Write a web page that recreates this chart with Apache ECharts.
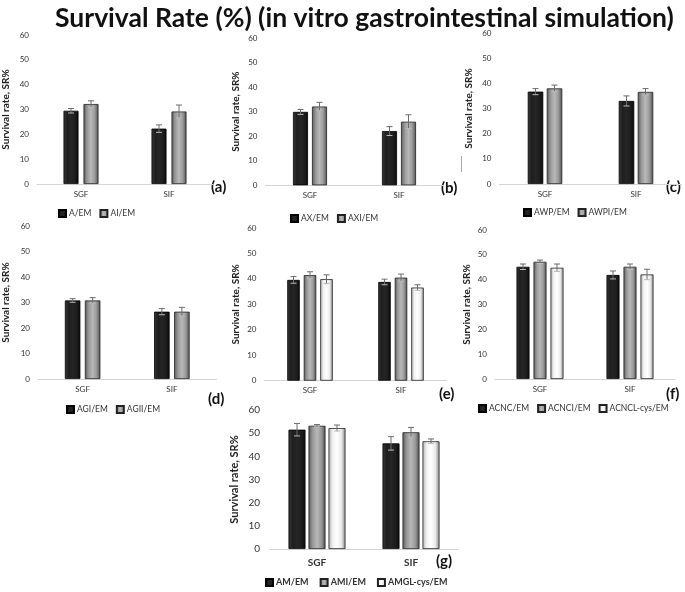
<!DOCTYPE html>
<html><head><meta charset="utf-8">
<script src="https://cdn.jsdelivr.net/npm/echarts@6/dist/echarts.min.js"></script>
<style>html,body{margin:0;padding:0;background:#fff}#c{width:685px;height:592px}</style>
</head><body><div id="c"></div>
<script>
// ---------- data ----------
const titleText = 'Survival Rate (%) (in vitro gastrointestinal simulation)';
const categories = ['SGF', 'SIF'];
const yTicks = [0, 10, 20, 30, 40, 50, 60];
const yName = 'Survival rate, SR%';

const aNames = ['A/EM', 'AI/EM'];
const aValues = [[29.5, 22.3], [32.2, 29.2]];
const aErrors = [[0.9, 1.5], [1.3, 2.6]];

const bNames = ['AX/EM', 'AXI/EM'];
const bValues = [[29.9, 22.1], [32.1, 25.9]];
const bErrors = [[1.0, 1.8], [1.7, 2.8]];

const cNames = ['AWP/EM', 'AWPI/EM'];
const cValues = [[36.7, 33.0], [38.0, 36.6]];
const cErrors = [[1.2, 2.0], [1.3, 1.3]];

const dNames = ['AGI/EM', 'AGII/EM'];
const dValues = [[30.8, 26.4], [30.8, 26.4]];
const dErrors = [[0.7, 1.2], [1.1, 1.7]];

const eNames = ['e1', 'e2', 'e3'];
const eValues = [[39.6, 38.8], [41.5, 40.5], [39.9, 36.6]];
const eErrors = [[1.3, 1.1], [1.3, 1.4], [1.7, 1.1]];

const fNames = ['ACNC/EM', 'ACNCI/EM', 'ACNCL-cys/EM'];
const fValues = [[45.2, 41.9], [47.2, 45.2], [44.8, 42.1]];
const fErrors = [[1.1, 1.6], [0.7, 1.1], [1.5, 2.1]];

const gNames = ['AM/EM', 'AMI/EM', 'AMGL-cys/EM'];
const gValues = [[51.5, 45.6], [53.2, 50.4], [52.2, 46.5]];
const gErrors = [[2.7, 2.9], [0.5, 2.1], [1.3, 1.0]];

const panelLetters = ['(a)', '(b)', '(c)', '(d)', '(e)', '(f)', '(g)'];

// ---------- layout / styles ----------
const panels = [
  {names: aNames, values: aValues, errors: aErrors, letter: panelLetters[0],
   L: {left: 37, top: 35, width: 176, height: 149, barW: 15, step: 20, nameGap: 26, nameSize: 10, labelSize: 8, bold: false,
       lx: 220, ly: 189, legend: {left: 58, top: 209}}},
  {names: bNames, values: bValues, errors: bErrors, letter: panelLetters[1],
   L: {left: 265.5, top: 38, width: 178, height: 147.3, barW: 15, step: 19, nameGap: 25, nameSize: 10, labelSize: 8, bold: false,
       lx: 450, ly: 190, legend: {left: 290, top: 214}}},
  {names: cNames, values: cValues, errors: cErrors, letter: panelLetters[2],
   L: {left: 499.5, top: 33, width: 182, height: 151, barW: 15.5, step: 19, nameGap: 26, nameSize: 10, labelSize: 8, bold: false,
       lx: 675, ly: 189, legend: {left: 523, top: 208}}},
  {names: dNames, values: dValues, errors: dErrors, letter: panelLetters[3],
   L: {left: 34.5, top: 226, width: 182, height: 153, barW: 15.5, step: 20, nameGap: 27, nameSize: 10, labelSize: 8, bold: false,
       lx: 217, ly: 401, legend: {left: 66, top: 405}}},
  {names: eNames, values: eValues, errors: eErrors, letter: panelLetters[4],
   L: {left: 264.5, top: 228, width: 182, height: 152.7, barW: 12.5, step: 16.5, nameGap: 24, nameSize: 10, labelSize: 8, bold: false,
       lx: 448, ly: 396, legend: null}},
  {names: fNames, values: fValues, errors: fErrors, letter: panelLetters[5],
   L: {left: 495, top: 230, width: 180, height: 149, barW: 13, step: 17, nameGap: 23, nameSize: 10, labelSize: 8, bold: false,
       lx: 675, ly: 396, legend: {left: 478, top: 404}}},
  {names: gNames, values: gValues, errors: gErrors, letter: panelLetters[6],
   L: {left: 270, top: 410, width: 188, height: 139, barW: 17, step: 20, nameGap: 30, nameSize: 11, labelSize: 10, bold: true,
       lx: 445, ly: 563, legend: {left: 265, top: 578}}}
];

function grad(stops) {
  return new echarts.graphic.LinearGradient(0, 0, 1, 0, stops.map((c, i) => ({offset: i / (stops.length - 1), color: c})));
}
const barStyles = [
  {color: grad(['#3a3a3a', '#1e1e1e', '#252525', '#1e1e1e', '#0a0a0a']), borderColor: '#000', borderWidth: 0.8},
  {color: grad(['#5a5a5a', '#9a9a9a', '#b8b8b8', '#9a9a9a', '#505050']), borderColor: '#222', borderWidth: 0.8},
  {color: grad(['#b0b0b0', '#f2f2f2', '#ffffff', '#ececec', '#8a8a8a']), borderColor: '#222', borderWidth: 0.8}
];
const fontFam = 'Lato, "Open Sans", sans-serif';

const grid = [], xAxis = [], yAxis = [], series = [], legend = [], graphic = [];
panels.forEach((p, pi) => {
  const L = p.L;
  grid.push({left: L.left, top: L.top, width: L.width, height: L.height, containLabel: false});
  xAxis.push({type: 'category', gridIndex: pi, data: categories,
    axisLine: {lineStyle: {color: '#d4d4d4', width: 1}}, axisTick: {show: false},
    axisLabel: {fontSize: L.labelSize, color: '#333', margin: L.bold ? 9 : 6, fontFamily: fontFam, fontWeight: L.bold ? 'bold' : 'normal'}});
  yAxis.push({type: 'value', gridIndex: pi, min: yTicks[0], max: yTicks[yTicks.length - 1], interval: yTicks[1] - yTicks[0],
    splitLine: {show: false}, axisLine: {show: false}, axisTick: {show: false},
    axisLabel: {fontSize: L.labelSize, color: '#333', margin: L.bold ? 10 : 8, fontFamily: fontFam},
    name: yName, nameLocation: 'middle', nameGap: L.nameGap,
    nameTextStyle: {fontSize: L.nameSize, fontWeight: 'bold', color: '#222', fontFamily: fontFam}});
  const n = p.names.length;
  const errData = [];
  p.names.forEach((nm, si) => {
    series.push({type: 'bar', name: nm, xAxisIndex: pi, yAxisIndex: pi, data: p.values[si],
      barWidth: L.barW, barGap: ((L.step - L.barW) / L.barW * 100) + '%',
      itemStyle: barStyles[si], emphasis: {disabled: true}, animation: false});
    p.values[si].forEach((v, ci) => errData.push([ci, v, p.errors[si][ci], si]));
  });
  series.push({type: 'custom', name: 'err' + pi, xAxisIndex: pi, yAxisIndex: pi, data: errData, z: 5, animation: false,
    renderItem: (params, api) => {
      const c = api.value(0), v = api.value(1), e = api.value(2), s = api.value(3);
      const tp = api.coord([c, v + e]);
      const bt = api.coord([c, v - e]);
      const x = tp[0] + (s - (n - 1) / 2) * L.step;
      const st = {stroke: '#6a6a6a', lineWidth: 1};
      return {type: 'group', children: [
        {type: 'line', shape: {x1: x, y1: tp[1], x2: x, y2: bt[1]}, style: st},
        {type: 'line', shape: {x1: x - 3, y1: tp[1], x2: x + 3, y2: tp[1]}, style: st},
        {type: 'line', shape: {x1: x - 3, y1: bt[1], x2: x + 3, y2: bt[1]}, style: {stroke: '#bbbbbb', lineWidth: 1}}
      ]};
    }});
  if (L.legend) {
    legend.push({data: p.names, left: L.legend.left, top: L.legend.top, itemWidth: 7, itemHeight: 7, itemGap: L.bold ? 11 : 8,
      icon: 'rect', selectedMode: false, padding: 0,
      textStyle: {fontSize: L.bold ? 9 : 8.5, color: '#333', fontFamily: fontFam, padding: [0, 0, 0, -2], fontWeight: L.bold ? 'bold' : 'normal'}});
  }
  graphic.push({type: 'text', left: L.lx - 9, top: L.ly - 9,
    style: {text: p.letter, font: 'bold 15px ' + fontFam, fill: '#111'}});
});
graphic.push({type: 'line', shape: {x1: 461.5, y1: 156, x2: 461.5, y2: 172}, style: {stroke: '#aaa', lineWidth: 1}});

const chart = echarts.init(document.getElementById('c'), null, {renderer: 'canvas'});
chart.setOption({
  backgroundColor: '#fff',
  animation: false,
  title: {text: titleText, left: 50, top: 0,
    textStyle: {fontSize: 26.5, fontWeight: 'bold', color: '#111', fontFamily: fontFam}},
  grid, xAxis, yAxis, series, legend, graphic
});
</script></body></html>
